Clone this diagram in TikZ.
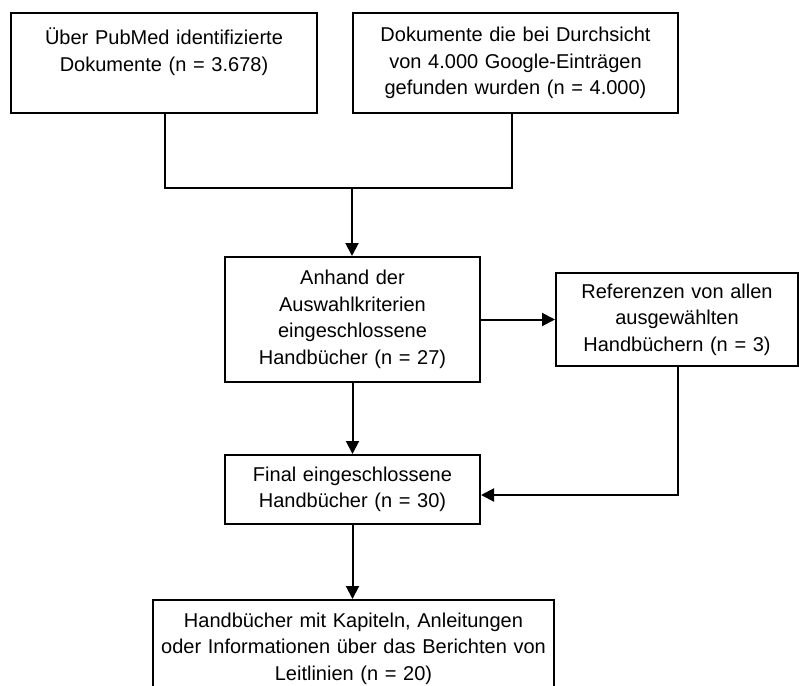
\documentclass[tikz,border=0pt]{standalone}
\usepackage{fontspec}
\setmainfont{Liberation Sans}
\usetikzlibrary{arrows.meta}
\begin{document}
\begin{tikzpicture}[x=1bp,y=-1bp,
  box/.style={draw=black,line width=2bp,fill=white,align=center,inner sep=0pt,
    font=\fontsize{20bp}{26.5bp}\selectfont},
  conn/.style={draw=black,line width=2bp},
  arr/.style={draw=black,line width=2bp,-{Triangle[width=13bp,length=13bp]}}]
\fill[white] (0,0) rectangle (799,686);
\clip (0,0) rectangle (799,686);
\node[box,minimum width=306bp,minimum height=100bp,text width=296bp] (b1) at (164,63)
  {Über PubMed identifizierte\\Dokumente (n = 3.678)\\\mbox{}};
\node[box,minimum width=325bp,minimum height=100bp,text width=315bp] (b2) at (515.5,63)
  {Dokumente die bei Durchsicht\\von 4.000 Google-Einträgen\\gefunden wurden (n = 4.000)};
\node[box,minimum width=255bp,minimum height=125bp,text width=245bp] (b3) at (352.5,319.5)
  {Anhand der\\Auswahlkriterien\\eingeschlossene\\Handbücher (n = 27)};
\node[box,minimum width=242bp,minimum height=93bp,text width=232bp] (b4) at (677,319.5)
  {Referenzen von allen\\ausgewählten\\Handbüchern (n = 3)};
\node[box,minimum width=255bp,minimum height=69bp,text width=245bp] (b5) at (352.5,489.5)
  {Final eingeschlossene\\Handbücher (n = 30)};
\node[box,minimum width=401bp,minimum height=97bp,text width=391bp] (b6) at (353.5,648.5)
  {Handbücher mit Kapiteln, Anleitungen\\oder Informationen über das Berichten von\\Leitlinien (n = 20)};
\coordinate (j1) at (165,188);
\coordinate (j2) at (512,188);
\coordinate (jm) at (352,188);
\coordinate (r4) at (678,495);
\draw[conn] (b1.south -| j1) -- (j1) -- (j2) -- (b2.south -| j2);
\draw[arr] (jm) -- (jm |- b3.north);
\draw[arr] (b3.east) -- (b4.west);
\draw[arr] (b3.south) -- (b5.north);
\draw[arr] (b4.south -| r4) -- (r4) -- (r4 -| b5.east);
\draw[arr] (b5.south) -- (b5.south |- b6.north);
\end{tikzpicture}
\end{document}
